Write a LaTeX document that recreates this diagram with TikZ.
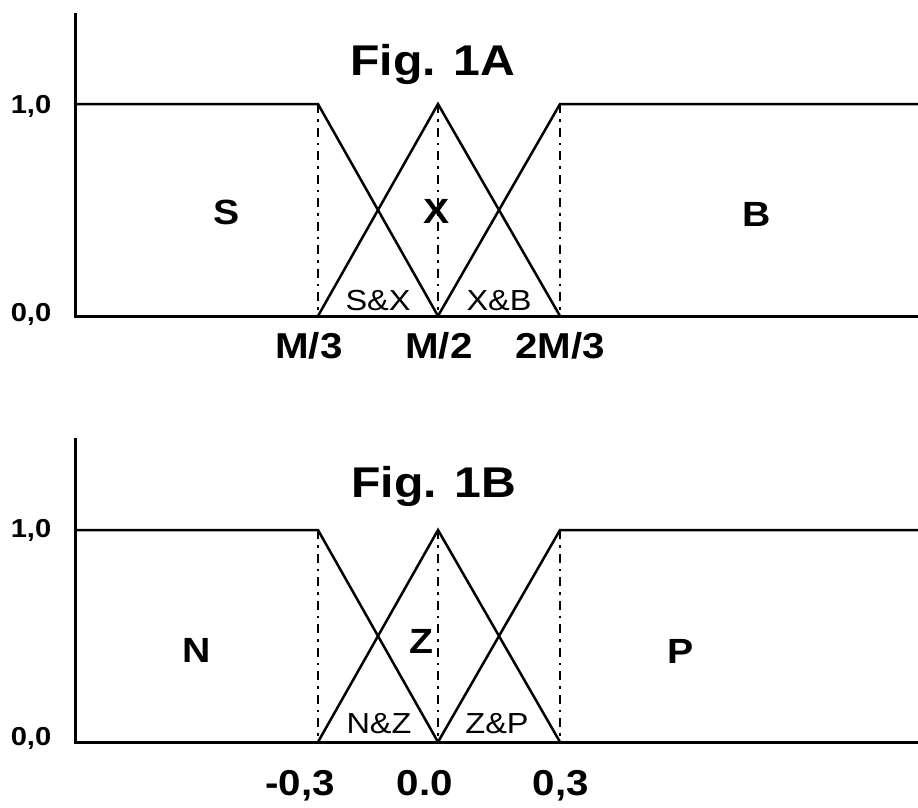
\documentclass[tikz,border=0pt]{standalone}
\usepackage{fontspec}
\setmainfont{Liberation Sans}
\newfontfamily\wide[FakeStretch=1.12]{Liberation Sans}
\begin{document}
\begin{tikzpicture}[x=1pt,y=-1pt,
  curve/.style={line width=2.5pt,line join=miter},
  axis/.style={line width=3pt},
  guide/.style={line width=2.6pt,dash pattern=on 9pt off 6pt on 2.5pt off 6pt},
  title/.style={anchor=base,inner sep=0pt,font=\wide\bfseries\fontsize{43}{43}\selectfont},
  tick/.style={anchor=base,inner sep=0pt,font=\wide\bfseries\fontsize{36}{36}\selectfont},
  ylab/.style={anchor=base,inner sep=0pt,font=\wide\bfseries\fontsize{26}{26}\selectfont},
  set/.style={anchor=base,inner sep=0pt,font=\wide\bfseries\fontsize{35}{35}\selectfont},
  overlap/.style={anchor=base,inner sep=0pt,font=\wide\fontsize{29}{29}\selectfont}]
\useasboundingbox (0,0) rectangle (918,807);

% ---------- Fig. 1A ----------
\coordinate (aTop) at (75,13);
\coordinate (aO) at (75,316);
\coordinate (aOne) at (75,104);
\coordinate (aEnd) at (918,316);
\coordinate (aEndT) at (918,104);
\coordinate (a1b) at (318,316);
\coordinate (a1t) at (318,104);
\coordinate (a2b) at (438,316);
\coordinate (a2t) at (438,104);
\coordinate (a3b) at (560,316);
\coordinate (a3t) at (560,104);

\draw[guide] (a1t) -- (a1b);
\draw[guide] (a2t) -- (a2b);
\draw[guide] (a3t) -- (a3b);
\draw[curve] (aOne) -- (a1t) -- (a2b);
\draw[curve] (a1b) -- (a2t) -- (a3b);
\draw[curve] (a2b) -- (a3t) -- (aEndT);
\draw[axis] (aTop) -- (aO) -- (aEnd);

\node[title] (tA) at (433,75) {Fig. 1A};
\node[ylab] (a10) at (31,113) {1,0};
\node[ylab] (a00) at (31,321) {0,0};
\node[tick] (m3) at (309,358) {M/3};
\node[tick] (m2) at (439,358) {M/2};
\node[tick] (m23) at (560,358) {2M/3};
\node[set] (S) at (227,224) {S};
\node[set] (X) at (437,223) {X};
\node[set] (B) at (757,226) {B};
\node[overlap] (SX) at (378,310) {S\&X};
\node[overlap] (XB) at (499,310) {X\&B};

% ---------- Fig. 1B ----------
\coordinate (bTop) at (75,438);
\coordinate (bO) at (75,742);
\coordinate (bOne) at (75,530);
\coordinate (bEnd) at (918,742);
\coordinate (bEndT) at (918,530);
\coordinate (b1b) at (318,742);
\coordinate (b1t) at (318,530);
\coordinate (b2b) at (438,742);
\coordinate (b2t) at (438,530);
\coordinate (b3b) at (560,742);
\coordinate (b3t) at (560,530);

\draw[guide] (b1t) -- (b1b);
\draw[guide] (b2t) -- (b2b);
\draw[guide] (b3t) -- (b3b);
\draw[curve] (bOne) -- (b1t) -- (b2b);
\draw[curve] (b1b) -- (b2t) -- (b3b);
\draw[curve] (b2b) -- (b3t) -- (bEndT);
\draw[axis] (bTop) -- (bO) -- (bEnd);

\node[title] (tB) at (434,497) {Fig. 1B};
\node[ylab] (b10) at (31,537) {1,0};
\node[ylab] (b00) at (31,745) {0,0};
\node[tick] (n3) at (300,795) {-0,3};
\node[tick] (z0) at (425,795) {0.0};
\node[tick] (p3) at (561,795) {0,3};
\node[set] (N) at (197,662) {N};
\node[set] (Z) at (421,653) {Z};
\node[set] (P) at (681,663) {P};
\node[overlap] (NZ) at (379,733) {N\&Z};
\node[overlap] (ZP) at (497,733) {Z\&P};
\end{tikzpicture}
\end{document}
